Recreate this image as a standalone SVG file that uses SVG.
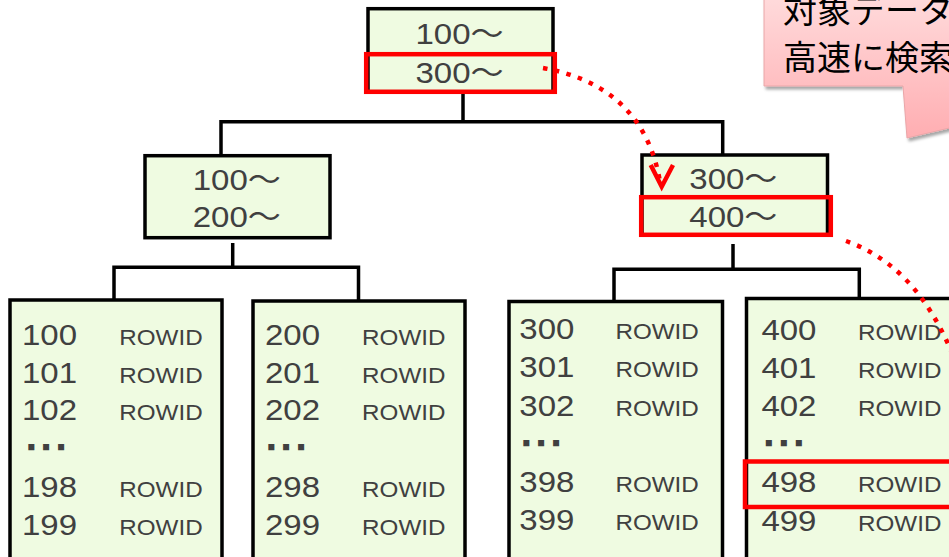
<svg xmlns="http://www.w3.org/2000/svg" width="949" height="557" viewBox="0 0 949 557">
<defs>
<linearGradient id="pink" gradientUnits="userSpaceOnUse" x1="0" y1="-40" x2="0" y2="140">
<stop offset="0" stop-color="#FFE6E6"/>
<stop offset="1" stop-color="#FFADB1"/>
</linearGradient>
<filter id="shadow" x="-10%" y="-10%" width="130%" height="140%">
<feDropShadow dx="2" dy="3" stdDeviation="1.8" flood-color="#000" flood-opacity="0.35"/>
</filter>
</defs>
<style>
.node{fill:#EFFBE1;stroke:#000;stroke-width:3.5}
.hl{fill:none;stroke:#FF0000;stroke-width:4.5}
.conn{fill:none;stroke:#000;stroke-width:3.5}
.t{font-family:"Liberation Sans","Noto Sans CJK JP",sans-serif;font-size:30px;fill:#404040}
.rid{font-family:"Liberation Sans",Arial,sans-serif;font-size:22px;fill:#404040}
.dots{font-family:"Liberation Sans",Arial,sans-serif;font-weight:bold;font-size:24px;letter-spacing:8.3px;fill:#404040;stroke:#404040;stroke-width:2.6;stroke-linejoin:miter}
.dot{fill:none;stroke:#FF0000;stroke-width:4.5;stroke-dasharray:4.5 7.5}
.cj{font-family:"Noto Sans CJK JP",sans-serif;font-size:34px;fill:#000}
</style>

<g id="callout">
<path d="M764,-20 H1200 V86 H1128 L907,138 L903,86 H764 Z" fill="url(#pink)" stroke="#EAA6A8" stroke-width="1" filter="url(#shadow)"/>
<text class="cj" x="783" y="23">対象データ</text>
<text class="cj" x="783" y="70">高速に検索</text>
</g>

<g id="root">
<rect class="node" x="368" y="8.7" width="185" height="83"/>
<text class="t" text-anchor="middle" transform="matrix(1.1 0 0 1 459.5 44)">100～</text>
<text class="t" text-anchor="middle" transform="matrix(1.1 0 0 1 459.5 82.5)">300～</text>
<rect class="hl" x="366.2" y="54.2" width="188.6" height="37.6"/>
</g>

<g id="mid-left">
<rect class="node" x="145" y="155.7" width="185" height="82"/>
<text class="t" text-anchor="middle" transform="matrix(1.1 0 0 1 236.7 190)">100～</text>
<text class="t" text-anchor="middle" transform="matrix(1.1 0 0 1 236.7 227)">200～</text>
</g>

<g id="mid-right">
<rect class="node" x="642" y="155" width="185.5" height="80"/>
<text class="t" text-anchor="middle" transform="matrix(1.1 0 0 1 733.3 189.3)">300～</text>
<text class="t" text-anchor="middle" transform="matrix(1.1 0 0 1 733.3 226.7)">400～</text>
<rect class="hl" x="641.2" y="197.2" width="189.6" height="37.6"/>
</g>

<g id="leaf-100">
<rect class="node" x="10" y="300" width="212" height="300"/>
<g transform="matrix(1.1 0 0 1 22 0)">
<text class="t" x="0" y="345">100</text><text class="rid" x="88.5" y="345">ROWID</text>
<text class="t" x="0" y="383">101</text><text class="rid" x="88.5" y="383">ROWID</text>
<text class="t" x="0" y="420.5">102</text><text class="rid" x="88.5" y="420.5">ROWID</text>
<text class="t" x="0" y="497">198</text><text class="rid" x="88.5" y="497">ROWID</text>
<text class="t" x="0" y="535.5">199</text><text class="rid" x="88.5" y="535.5">ROWID</text>
</g>
<text class="dots" x="27.9" y="449.4">...</text>
</g>

<g id="leaf-200">
<rect class="node" x="253" y="301" width="212" height="300"/>
<g transform="matrix(1.1 0 0 1 265 0)">
<text class="t" x="0" y="345">200</text><text class="rid" x="88.3" y="345">ROWID</text>
<text class="t" x="0" y="383">201</text><text class="rid" x="88.3" y="383">ROWID</text>
<text class="t" x="0" y="420.5">202</text><text class="rid" x="88.3" y="420.5">ROWID</text>
<text class="t" x="0" y="497">298</text><text class="rid" x="88.3" y="497">ROWID</text>
<text class="t" x="0" y="535.5">299</text><text class="rid" x="88.3" y="535.5">ROWID</text>
</g>
<text class="dots" x="267.9" y="449.4">...</text>
</g>

<g id="leaf-300">
<rect class="node" x="509" y="301.5" width="213.5" height="300"/>
<g transform="matrix(1.1 0 0 1 519.3 0)">
<text class="t" x="0" y="339">300</text><text class="rid" x="87.4" y="339">ROWID</text>
<text class="t" x="0" y="377">301</text><text class="rid" x="87.4" y="377">ROWID</text>
<text class="t" x="0" y="416">302</text><text class="rid" x="87.4" y="416">ROWID</text>
<text class="t" x="0" y="492">398</text><text class="rid" x="87.4" y="492">ROWID</text>
<text class="t" x="0" y="530.5">399</text><text class="rid" x="87.4" y="530.5">ROWID</text>
</g>
<text class="dots" x="522.9" y="445.4">...</text>
</g>

<g id="leaf-400">
<rect class="node" x="746.5" y="298.5" width="260" height="300"/>
<g transform="matrix(1.1 0 0 1 761.4 0)">
<text class="t" x="0" y="340">400</text><text class="rid" x="87.9" y="340">ROWID</text>
<text class="t" x="0" y="378">401</text><text class="rid" x="87.9" y="378">ROWID</text>
<text class="t" x="0" y="416.5">402</text><text class="rid" x="87.9" y="416.5">ROWID</text>
<text class="t" x="0" y="492">498</text><text class="rid" x="87.9" y="492">ROWID</text>
<text class="t" x="0" y="531.5">499</text><text class="rid" x="87.9" y="531.5">ROWID</text>
</g>
<text class="dots" x="765.6" y="444.7">...</text>
<rect class="hl" x="745" y="461.5" width="260" height="45.5"/>
</g>

<g id="connectors">
<path class="conn" d="M463,94 V121.7"/>
<path class="conn" d="M221,156 V121.7 H722.7 V155"/>
<path class="conn" d="M232.7,243 V267.3"/>
<path class="conn" d="M114,300 V267.3 H358.5 V301"/>
<path class="conn" d="M733,244 V269.3"/>
<path class="conn" d="M614,301.5 V269.3 H859.3 V298.5"/>
<path class="dot" d="M543,68 C600,78 648,110 660,182"/>
<path d="M650.7,165 L661.7,186.7 L673,165" fill="none" stroke="#FF0000" stroke-width="4.5" stroke-linejoin="miter"/>
<path class="dot" d="M846,241 C885,255 925,285 955,360"/>
</g>
</svg>
